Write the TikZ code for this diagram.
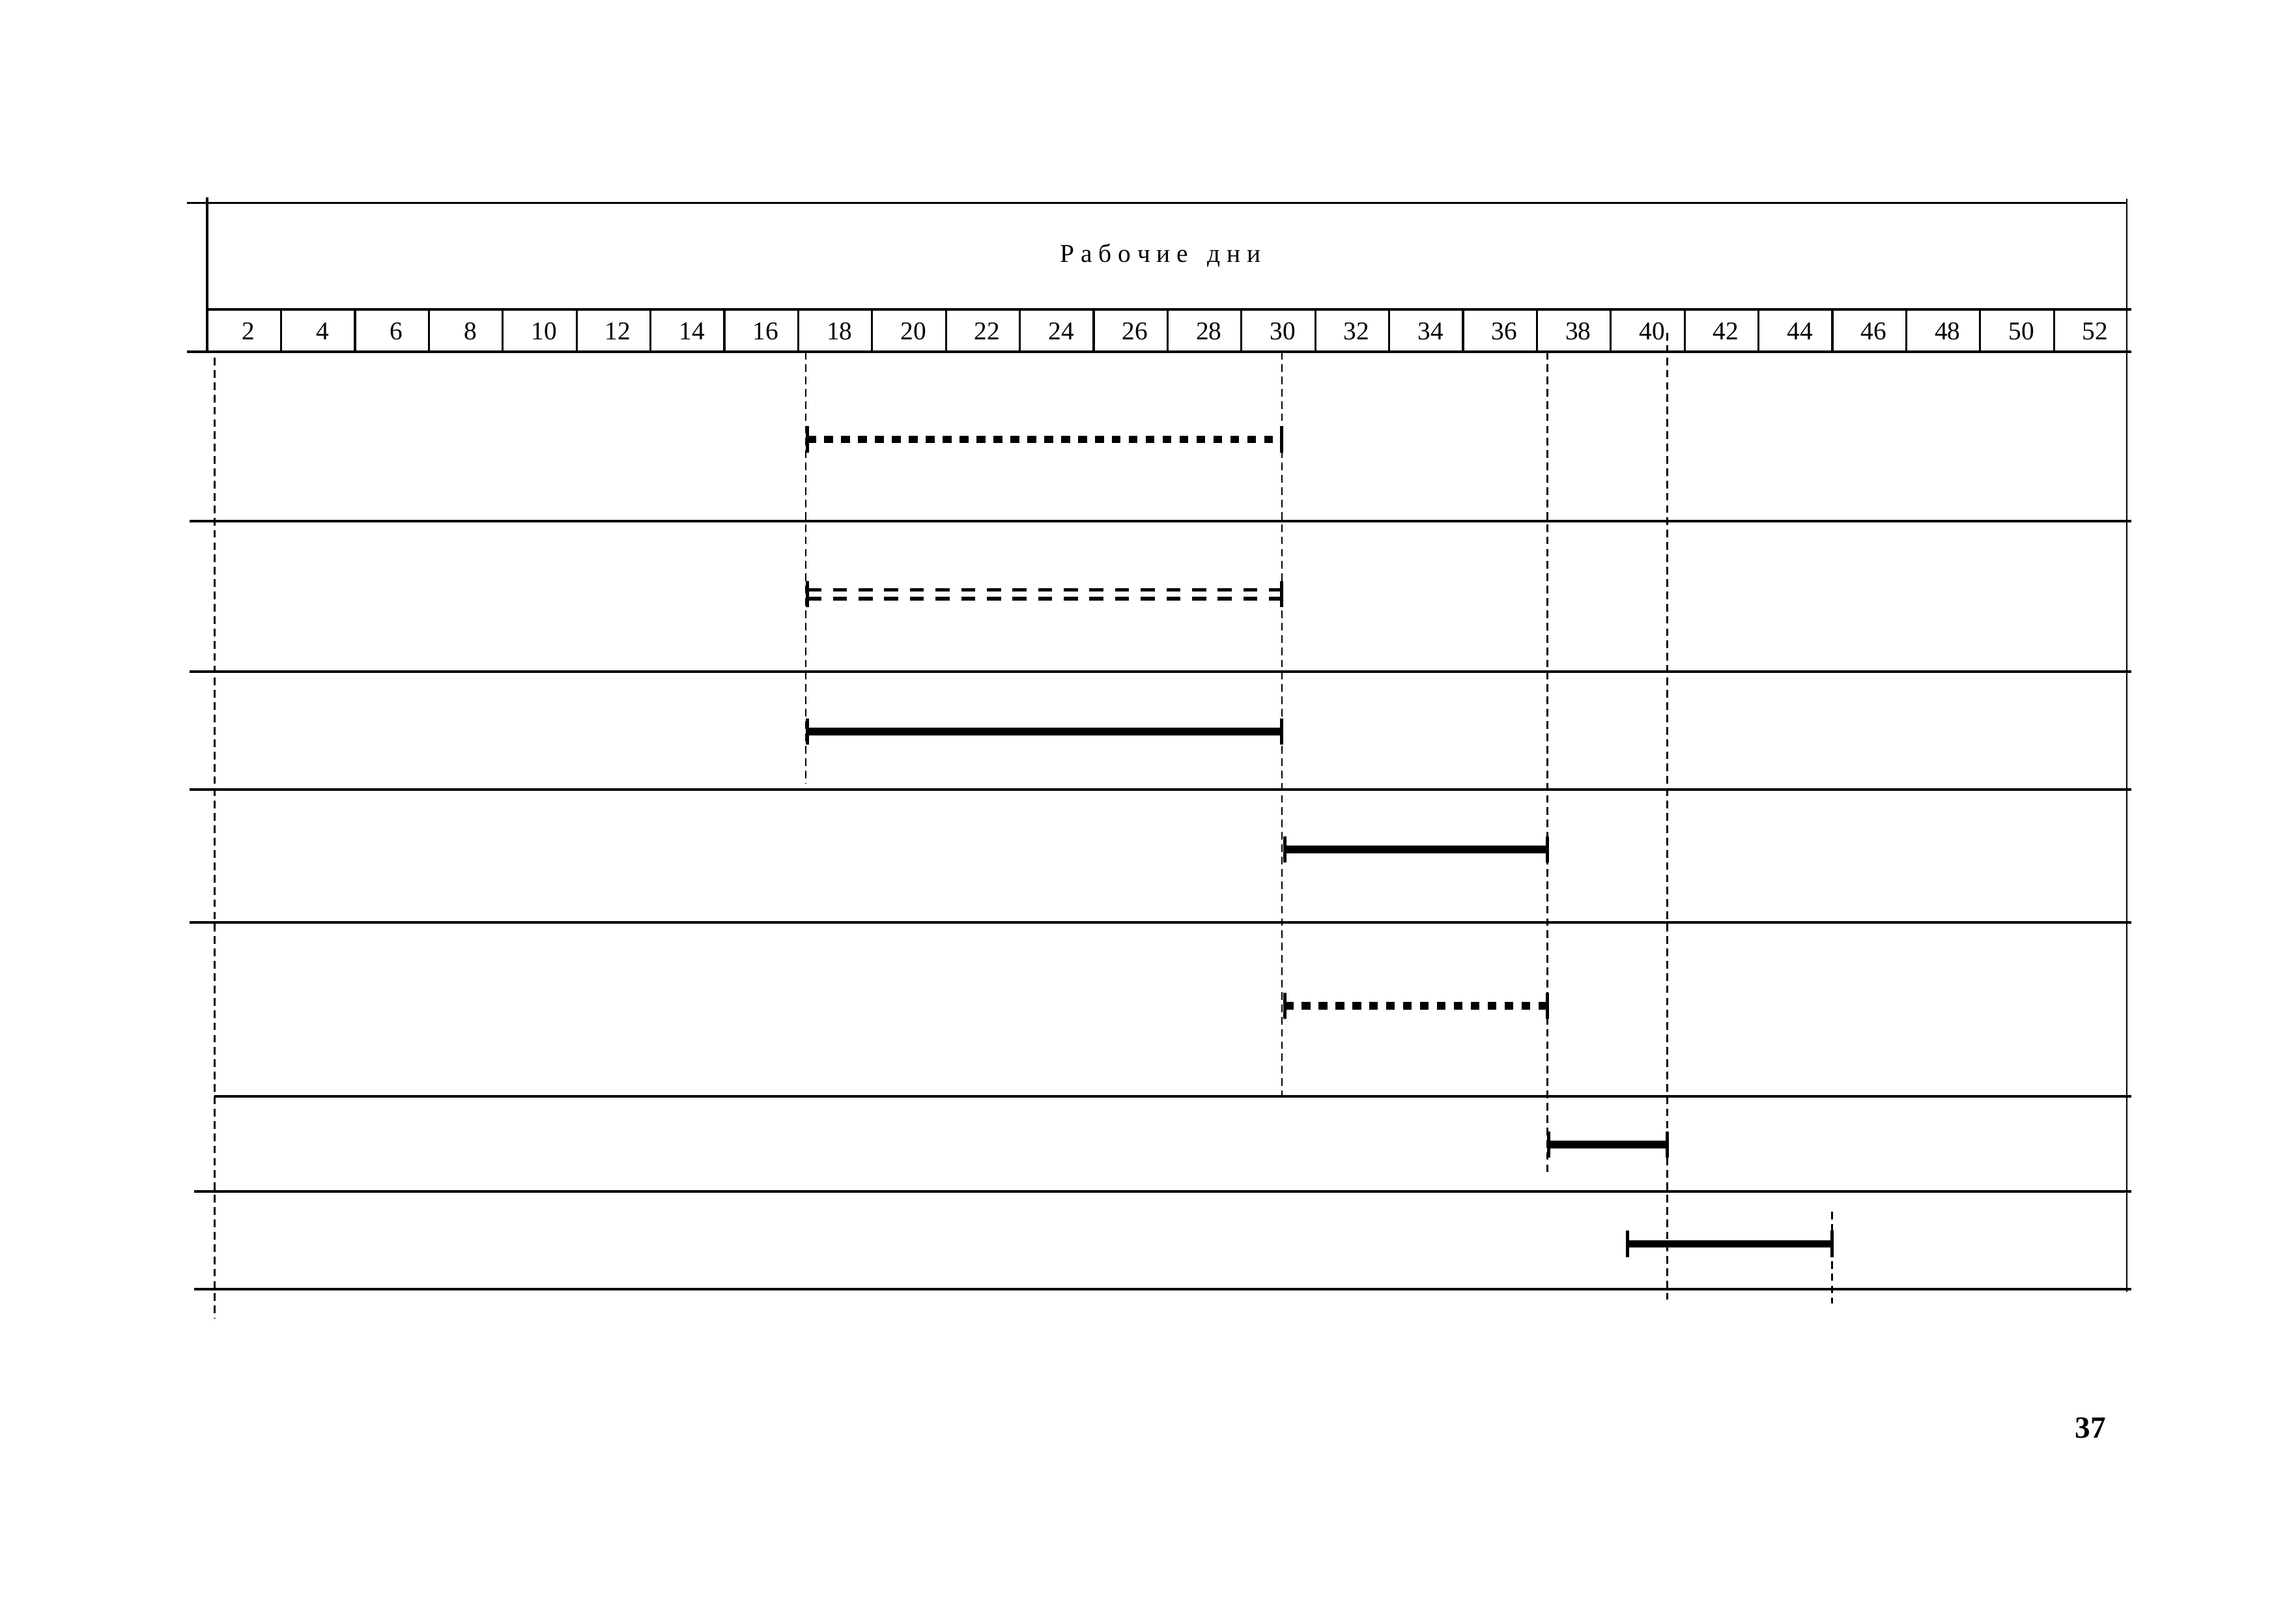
\documentclass[tikz,border=0pt]{standalone}
\usepackage{fontspec}
\setmainfont{Liberation Serif}
\tikzset{
  frame/.style={line width=1pt},
  cellline/.style={line width=0.8pt},
  guide/.style={line width=0.6pt, dash pattern=on 3pt off 1.8pt},
  solidbar/.style={line width=3pt},
  dotbar/.style={line width=3pt, dash pattern=on 3.4pt off 3.2pt},
  dblbar/.style={line width=1.4pt, dash pattern=on 5.5pt off 4.5pt, double, double distance=2pt},
  endtick/.style={line width=1.3pt},
}
\begin{document}
\begin{tikzpicture}[x=0.02cm, y=-0.02cm]
\useasboundingbox (0,0) rectangle (1568,1112);

% head of the table
\draw[frame] (128,139) -- (1457,139);
\draw[frame] (142,135) -- (142,241);
\draw[line width=0.6pt] (1457,136) -- (1457,885);
\draw[frame] (142,212) -- (1460,212);
\node[font=\fontsize{10}{12}\selectfont] (title) at (795,175) {Р а б о ч и е \ \ д н и};

% day cells
\foreach \i in {1,...,25}
    \draw[cellline] (142+\i*50.6,212) -- (142+\i*50.6,241);
\foreach \i [evaluate=\i as \n using int(2*\i)] in {1,...,26}
    \node[font=\fontsize{10}{12}\selectfont] (d\n) at (145+\i*50.6-25.3,227) {\n};

% rows
\foreach \y/\s in {241/128, 357/130, 460/130, 541/130, 632/130, 751/147, 816/133, 883/133}
    \draw[frame] (\s,\y) -- (1460,\y);

% guide lines
\draw[guide] (147,245) -- (147,903);
\draw[guide] (552,241) -- (552,537);
\draw[guide] (878,241) -- (878,750);
\draw[guide] (1060,241) -- (1060,805);
\draw[guide] (1142,228) -- (1142,890);
\draw[guide] (1255,830) -- (1255,893);

% works
\foreach \a/\b/\y/\s in {553/878/301/dotbar, 553/878/407/dblbar, 553/878/501/solidbar,
        880/1060/582/solidbar, 880/1060/689/dotbar, 1061/1142/784/solidbar, 1115/1255/852/solidbar} {
    \draw[\s] (\a,\y) -- (\b,\y);
    \draw[endtick] (\a,\y-9) -- (\a,\y+9);
    \draw[endtick] (\b,\y-9) -- (\b,\y+9);
}

\node[font=\bfseries\fontsize{12}{14}\selectfont] (page) at (1432,978) {37};
\end{tikzpicture}
\end{document}
